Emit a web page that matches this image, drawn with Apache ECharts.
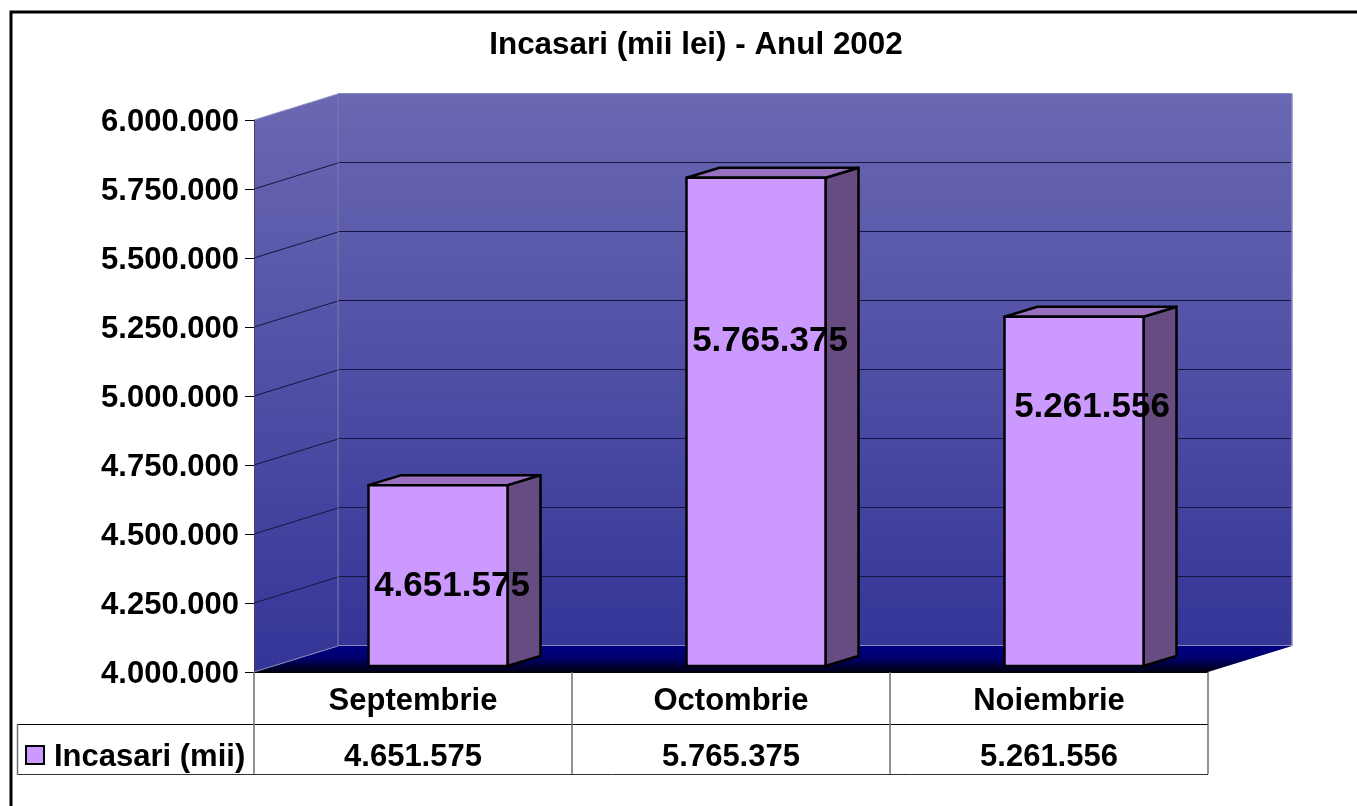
<!DOCTYPE html>
<html>
<head>
<meta charset="utf-8">
<title>Incasari</title>
<script src="https://cdn.jsdelivr.net/npm/echarts@6/dist/echarts.min.js"></script>
<style>
    html, body { margin: 0; padding: 0; background: #fff; }
    #chart { width: 1357px; height: 806px; }
</style>
</head>
<body>
<div id="chart"></div>
<script>
var titleText = 'Incasari (mii lei) - Anul 2002';
var seriesName = 'Incasari (mii)';
var categories = ['Septembrie', 'Octombrie', 'Noiembrie'];
var incasari = [4651575, 5765375, 5261556];
var tickValues = [4000000, 4250000, 4500000, 4750000, 5000000, 5250000, 5500000, 5750000, 6000000];

var FONT = '"Liberation Sans", Arial, sans-serif';
// depth of the fake 3D box
var wallDx = 84, wallDy = -26;
// bar placement inside its band
var barW = 139, barDx = 33, barDy = -10, barShiftX = 25, barShiftY = -7;
// the original labels sit at odd places, so they are set by hand
var labelX = [452, 770, 1092];
var labelY = [586, 341, 407];

function fmt(v) {
    return String(v).replace(/\B(?=(\d{3})+$)/g, '.');
}

function line(x1, y1, x2, y2, stroke, width) {
    return {
        type: 'line',
        shape: { x1: x1, y1: y1, x2: x2, y2: y2 },
        style: { stroke: stroke, lineWidth: width || 1 }
    };
}

function poly(points, fill, stroke) {
    return {
        type: 'polygon',
        shape: { points: points },
        style: { fill: fill, stroke: stroke || null, lineWidth: stroke ? 2.5 : 0, lineJoin: 'round' }
    };
}

function wallGradient() {
    return new echarts.graphic.LinearGradient(0, 0, 0, 1, [
        { offset: 0, color: '#6a68b2' },
        { offset: 1, color: '#353598' }
    ]);
}

function renderWalls(params, api) {
    var c = params.coordSys;
    var l = c.x, r = c.x + c.width, t = c.y, b = c.y + c.height;
    var kids = [
        // back wall
        poly([[l + wallDx, t + wallDy], [r + wallDx, t + wallDy], [r + wallDx, b + wallDy], [l + wallDx, b + wallDy]], wallGradient()),
        // left wall
        poly([[l, t], [l + wallDx, t + wallDy], [l + wallDx, b + wallDy], [l, b]], wallGradient()),
        // floor
        poly([[l, b], [l + wallDx, b + wallDy], [r + wallDx, b + wallDy], [r, b]], new echarts.graphic.LinearGradient(0, 0, 0, 1, [
            { offset: 0, color: '#000080' },
            { offset: 0.45, color: '#000070' },
            { offset: 1, color: '#000010' }
        ]))
    ];
    tickValues.forEach(function (v, i) {
        var y = Math.round(api.coord([0, v])[1]);
        var edge = i === 0 || i === tickValues.length - 1;
        var color = edge ? '#8a8abc' : '#15153f';
        kids.push(line(l, y, l + wallDx, y + wallDy, color));
        kids.push(line(l + wallDx, y + wallDy - 0.5, r + wallDx, y + wallDy - 0.5, color));
    });
    kids.push(line(l + wallDx, t + wallDy, l + wallDx, b + wallDy, '#7c7cae'));
    kids.push(line(r + wallDx, t + wallDy, r + wallDx, b + wallDy, '#8a8abc', 1.5));
    return { type: 'group', children: kids };
}

function renderBar(params, api) {
    var i = api.value(0);
    var top = api.coord([i, api.value(1)]);
    var base = api.coord([i, tickValues[0]]);
    var x0 = top[0] + barShiftX - barW / 2, x1 = x0 + barW;
    var y0 = top[1] + barShiftY, y1 = base[1] - 6;
    return {
        type: 'group',
        children: [
            poly([[x1, y0], [x1 + barDx, y0 + barDy], [x1 + barDx, y1 + barDy], [x1, y1]], '#664c80', '#000'),
            poly([[x0, y0], [x0 + barDx, y0 + barDy], [x1 + barDx, y0 + barDy], [x1, y0]], '#9970bf', '#000'),
            poly([[x0, y0], [x1, y0], [x1, y1], [x0, y1]], '#cc99ff', '#000'),
            {
                type: 'text',
                x: labelX[i],
                y: labelY[i],
                style: {
                    text: fmt(api.value(1)),
                    fill: '#000',
                    font: 'bold 35px ' + FONT,
                    align: 'center',
                    verticalAlign: 'middle'
                }
            }
        ]
    };
}

var option = {
    animation: false,
    backgroundColor: '#fff',
    title: {
        text: titleText,
        left: 691,
        top: 25,
        textAlign: 'center',
        textStyle: { fontFamily: FONT, fontSize: 31.4, fontWeight: 'bold', color: '#000' }
    },
    grid: { left: 254, top: 120, width: 954, height: 552 },
    xAxis: [{
        type: 'category',
        data: categories,
        z: 5,
        axisLine: { lineStyle: { color: '#000', width: 1 } },
        axisTick: { show: true, alignWithLabel: false, length: 102, lineStyle: { color: '#707070', width: 1.5 } },
        axisLabel: { margin: 14, color: '#000', fontFamily: FONT, fontSize: 31, fontWeight: 'bold' }
    }, {
        type: 'category',
        position: 'bottom',
        data: incasari.map(fmt),
        axisLine: { show: false },
        axisTick: { show: false },
        axisLabel: { margin: 70, color: '#000', fontFamily: FONT, fontSize: 31, fontWeight: 'bold' }
    }],
    yAxis: {
        type: 'value',
        min: tickValues[0],
        max: tickValues[tickValues.length - 1],
        interval: tickValues[1] - tickValues[0],
        z: 5,
        splitLine: { show: false },
        axisLine: { show: true, lineStyle: { color: '#404060', width: 1 } },
        axisTick: { show: true, length: 9, lineStyle: { color: '#000', width: 1 } },
        axisLabel: {
            margin: 15,
            formatter: function (v) { return '{v|' + fmt(v) + '}'; },
            rich: { v: { color: '#000', fontFamily: FONT, fontSize: 31, fontWeight: 'bold', padding: [4, 0, 0, 0] } }
        }
    },
    series: [{
        type: 'custom',
        name: 'walls',
        z: 1,
        clip: false,
        silent: true,
        data: [[0, tickValues[0]]],
        renderItem: renderWalls
    }, {
        type: 'custom',
        name: seriesName,
        z: 2,
        clip: false,
        data: incasari.map(function (v, i) { return [i, v]; }),
        encode: { x: 0, y: 1 },
        renderItem: renderBar
    }],
    graphic: [
        // outer frame runs off the page on the right and bottom
        { type: 'rect', shape: { x: 11, y: 12, width: 1400, height: 850 }, style: { fill: null, stroke: '#000', lineWidth: 3 } },
        // data table
        line(17, 724.5, 1208, 724.5, '#000'),
        line(17, 774.5, 1208, 774.5, '#333'),
        line(17.5, 724, 17.5, 775, '#707070', 1.5),
        { type: 'rect', shape: { x: 26, y: 746, width: 18, height: 18 }, style: { fill: '#cc99ff', stroke: '#000', lineWidth: 2 } },
        {
            type: 'text',
            x: 54,
            y: 757,
            style: { text: seriesName, fill: '#000', font: 'bold 31px ' + FONT, align: 'left', verticalAlign: 'middle' }
        }
    ]
};

var mychart = echarts.init(document.getElementById('chart'));
mychart.setOption(option);
</script>
</body>
</html>
